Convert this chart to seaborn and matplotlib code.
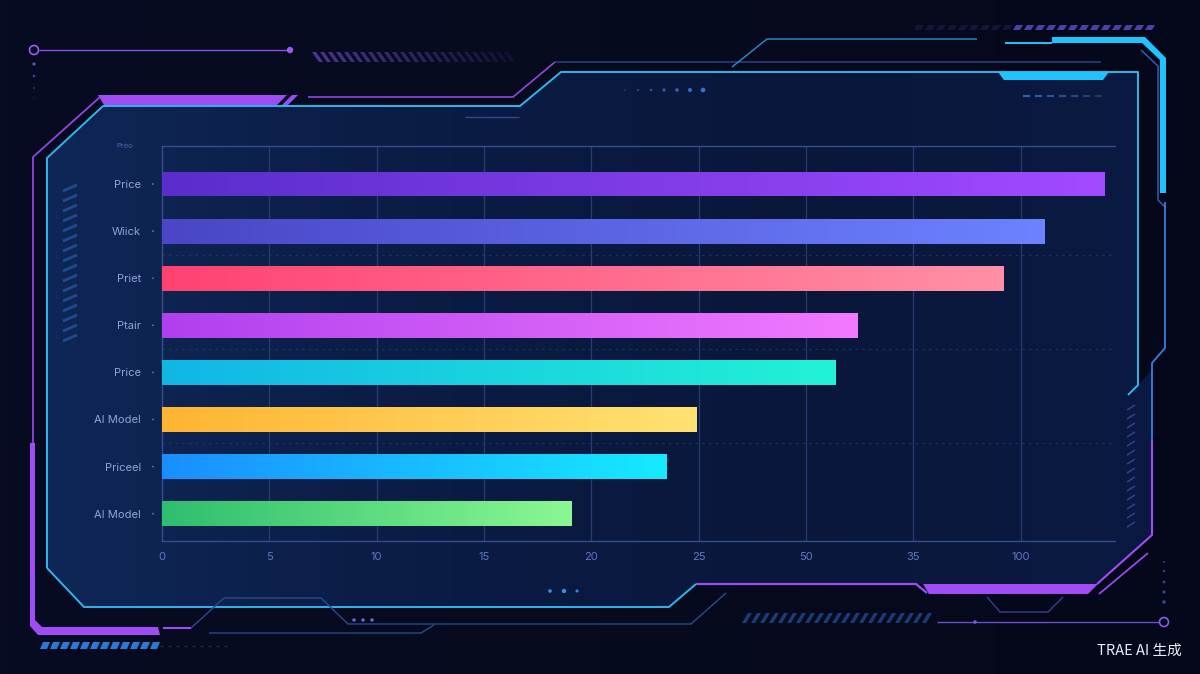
import numpy as np
import pandas as pd
import matplotlib
matplotlib.use("Agg")
import matplotlib.pyplot as plt
import matplotlib.transforms as mtransforms
from matplotlib.colors import LinearSegmentedColormap
from matplotlib.patches import Polygon, Circle
import seaborn as sns

# ------------------------------------------------------------------
# Data
# ------------------------------------------------------------------
labels = ["Price", "Wiick", "Priet", "Ptair", "Price", "AI Model", "Priceel", "AI Model"]
values = [43.9, 41.1, 39.2, 32.4, 31.4, 24.9, 23.5, 19.1]
start_colors = ["#5A2DCC", "#4A46C6", "#FF4272", "#B040EE", "#12B6E6", "#FFB432", "#1A8EFF", "#2EBE6E"]
end_colors = ["#A24AFF", "#6C82FF", "#FF90A6", "#F27AFF", "#22F2D6", "#FFE272", "#16EAFF", "#8AF892"]
tick_pos = [0, 5, 10, 15, 20, 25, 30, 35, 40]
tick_text = ["0", "5", "10", "15", "20", "25", "50", "35", "100"]
top_label = "Preo"
watermark = "TRAE AI 生成"

W, H = 1200, 674
BG = "#070b1f"
CYAN = "#2fb6ee"
BRIGHT = "#1fc4ff"
PURPLE = "#a04cf5"
DIM = "#2b3c7e"

sns.set_theme(style="dark")
plt.rcParams["font.family"] = ["Inter", "DejaVu Sans"]
plt.rcParams["patch.edgecolor"] = "none"

fig = plt.figure(figsize=(W / 100, H / 100), dpi=100)
fig.patch.set_facecolor(BG)

# ------------------------------------------------------------------
# Background / frame decoration, in pixel coordinates
# ------------------------------------------------------------------
bg = fig.add_axes([0, 0, 1, 1], zorder=0)
bg.set_xlim(0, W)
bg.set_ylim(H, 0)
bg.axis("off")

vign = np.linspace(0, 1, 300).reshape(1, -1)
bg.imshow(vign, extent=[0, W, H, 0], aspect="auto",
          cmap=LinearSegmentedColormap.from_list("bgc", ["#080c22", "#070b1e", "#05081a"]), zorder=0)

panel_pts = [(47, 158), (103, 106), (520, 106), (561, 72), (1138, 72), (1138, 385),
             (1152, 370), (1151, 535), (1097, 584), (696, 584), (669, 607), (84, 607), (47, 568)]
panel = Polygon(panel_pts, closed=True, facecolor="none", edgecolor="none")
bg.add_patch(panel)
pg = np.linspace(0, 1, 400).reshape(1, -1)
im = bg.imshow(pg, extent=[40, 1160, 620, 60], aspect="auto",
               cmap=LinearSegmentedColormap.from_list("pan", ["#0f2756", "#0b1c45", "#0a173b", "#0b1a42"]),
               zorder=1)
im.set_clip_path(panel)


def line(pts, color, lw=1.2, alpha=1.0, z=3):
    xs, ys = zip(*pts)
    bg.plot(xs, ys, color=color, lw=lw, alpha=alpha, zorder=z, solid_capstyle="butt")


def quad(pts, color, alpha=1.0, z=3):
    bg.add_patch(Polygon(pts, closed=True, facecolor=color, edgecolor="none", alpha=alpha, zorder=z))


def dot(x, y, r, color, alpha=1.0):
    bg.add_patch(Circle((x, y), r, facecolor=color, edgecolor="none", alpha=alpha, zorder=3))


# inner cyan panel outline
line([(47, 568), (47, 158), (103, 106), (520, 106), (561, 72), (1138, 72), (1138, 385), (1128, 395)], CYAN, 1.4)
line([(47, 568), (84, 607), (669, 607), (696, 584)], CYAN, 1.4)
line([(696, 584), (916, 584), (927, 593)], PURPLE, 1.6)
# right edge: outer line turning purple
line([(1165, 202), (1165, 348), (1152, 363), (1152, 440)], "#3a7fe0", 1.3)
line([(1152, 440), (1152, 535), (1097, 584)], PURPLE, 1.5)
quad([(923, 584), (1098, 584), (1088, 594), (929, 594)], PURPLE)
line([(1099, 594), (1148, 553)], PURPLE, 1.2)

# left purple outer frame
line([(100, 97), (33, 157), (33, 443)], PURPLE, 1.3, 0.9)
quad([(30, 443), (35, 443), (35, 620), (42, 627), (158, 627), (160, 635), (38, 635), (30, 626)], PURPLE)
quad([(98, 95), (287, 95), (277, 105), (104, 105)], PURPLE)
quad([(292, 95), (298, 95), (288, 105), (282, 105)], PURPLE)
line([(308, 97), (513, 97), (555, 62)], PURPLE, 1.2, 0.9)
line([(555, 62), (1101, 62)], DIM, 1.2)

# top-right bright cyan corner
line([(1005, 43), (1052, 43)], BRIGHT, 1.4)
quad([(1052, 37), (1145, 37), (1166, 58), (1166, 193), (1160, 193), (1160, 60), (1142, 43), (1052, 43)], BRIGHT)
line([(1141, 50), (1158, 66), (1158, 200), (1165, 207)], "#3a7fe0", 1.0, 0.8)
quad([(998, 72), (1109, 72), (1103, 80), (1004, 80)], BRIGHT)
line([(732, 67), (767, 39), (977, 39)], "#2a8fd0", 1.0)

# top-left node line
bg.add_patch(Circle((34, 50), 4.5, facecolor="none", edgecolor="#9a5cf0", lw=1.2, zorder=3))
line([(39, 50), (288, 50)], "#8a4fe8", 1.0)
dot(290, 50, 3.2, "#9a5cf0")
for i, yy in enumerate([64, 76, 88, 98]):
    dot(34, yy, 1.6 - 0.3 * i, "#6a6ad8", 0.8 - 0.18 * i)

# purple hatch top
for i, xx in enumerate(np.arange(312, 505, 8)):
    quad([(xx, 52), (xx + 4, 52), (xx + 11, 62), (xx + 7, 62)], "#5a3fb0", max(0.15, 0.8 - i * 0.028))
line([(465, 117), (519, 117)], "#2a4a8a", 1.0)

# top-right dots / dashes
for i, xx in enumerate(np.linspace(625, 703, 7)):
    dot(xx, 90, 0.8 + 0.25 * i, "#3a7ae0", 0.5 + 0.07 * i)
for i, xx in enumerate(np.arange(1023, 1107, 12)):
    line([(xx, 96), (xx + 7, 96)], "#3a6fc8", 1.5, 0.85 - i * 0.08)
for i, xx in enumerate(np.arange(914, 1151, 11)):
    a = 0.2 if xx < 1011 else 0.9
    quad([(xx + 3, 25), (xx + 10, 25), (xx + 7, 30), (xx, 30)], "#5a44b8", a)

# left hatch
for yy in np.arange(185, 345, 10):
    line([(63, yy + 6), (77, yy)], "#2a5aa8", 2.0, 0.7)
# right hatch
for yy in np.arange(405, 527, 9):
    line([(1127, yy + 5), (1135, yy)], "#5a5ac8", 1.0, 0.6)

# bottom-left blue dashes
for xx in np.arange(40, 158, 10):
    quad([(xx + 3, 642), (xx + 10, 642), (xx + 7, 649), (xx, 649)], "#2a7ad8")
for xx in np.arange(160, 232, 8):
    line([(xx, 646), (xx + 3, 646)], "#2a5aa8", 1.0, 0.4)

# bottom circuit lines
line([(163, 628), (191, 628)], PURPLE, 1.5)
line([(191, 628), (224, 598), (321, 598), (348, 624), (691, 624), (726, 593)], "#2a4a90", 1.0)
line([(209, 633), (421, 633), (434, 625)], "#2a4a90", 1.0)
for xx in [354, 363, 372]:
    dot(xx, 620, 1.7, "#6a6ae0")
for xx, r in [(550, 1.8), (564, 2.2), (577, 1.5)]:
    dot(xx, 591, r, "#3a8ae8")
for i, xx in enumerate(np.arange(742, 923, 9)):
    quad([(xx + 6, 613), (xx + 10, 613), (xx + 4, 623), (xx, 623)], "#1f4a90", 0.8)
line([(937, 622), (1159, 622)], "#6a4fd0", 1.0)
dot(975, 622, 1.8, "#7a5ae0")
bg.add_patch(Circle((1164, 622), 4.5, facecolor="none", edgecolor="#8a5ae8", lw=1.2, zorder=3))
for i, yy in enumerate([562, 571, 582, 592, 602]):
    dot(1164, yy, 1.0 + 0.2 * i, "#4a5ac8", 0.7)
line([(987, 597), (1000, 612), (1048, 612), (1063, 597)], "#3a3f90", 1.0)

bg.text(1182, 651, watermark, ha="right", va="center", color="#e8ecf6", fontsize=10.5,
        family=["Noto Sans CJK SC", "DejaVu Sans"])

# ------------------------------------------------------------------
# Bar chart
# ------------------------------------------------------------------
ax_l, ax_r, ax_t, ax_b = 162, 1115, 146, 541
ax = fig.add_axes([ax_l / W, 1 - ax_b / H, (ax_r - ax_l) / W, (ax_b - ax_t) / H], zorder=2)
ax.set_facecolor("none")

df = pd.DataFrame({"slot": range(len(values)), "value": values})
sns.barplot(data=df, x="value", y="slot", orient="h", width=0.53, errorbar=None,
            color="#6a6aff", ax=ax, zorder=3)

grad = np.linspace(0, 1, 256).reshape(1, -1)
for patch, c0, c1 in zip(ax.patches, start_colors, end_colors):
    x0, y0 = patch.get_x(), patch.get_y()
    w, h = patch.get_width(), patch.get_height()
    cmap = LinearSegmentedColormap.from_list("g", [c0, c1])
    gi = ax.imshow(grad, extent=[x0, x0 + w, y0 + h, y0], aspect="auto", cmap=cmap, zorder=4)
    gi.set_clip_path(patch)
    patch.set_facecolor("none")
    patch.set_edgecolor("none")

ax.set_xlim(0, 44.4)
ax.set_ylim(7.58, -0.807)

ax.set_xticks(tick_pos)
ax.set_xticklabels(tick_text)
ax.set_yticks(range(len(labels)))
ax.set_yticklabels(labels)
ax.set_xlabel("")
ax.set_ylabel("")
ax.tick_params(axis="x", length=0, pad=8, labelsize=8, labelcolor="#5d7cc0")
ax.tick_params(axis="y", length=0, pad=15, labelsize=8, labelcolor="#8ea6dc")

ax.grid(False)
for t in tick_pos[1:]:
    ax.axvline(t, color="#263d72", lw=0.9, zorder=1)
for yy in [1.5, 3.5, 5.5]:
    ax.axhline(yy, color="#2a3f72", lw=0.8, ls=(0, (2, 4)), alpha=0.7, zorder=1)

for side in ["left", "bottom", "top"]:
    ax.spines[side].set_visible(True)
    ax.spines[side].set_color("#34508c")
    ax.spines[side].set_linewidth(1.0)
ax.spines["right"].set_visible(False)

# small tick dots beside the category labels
dot_tr = mtransforms.blended_transform_factory(ax.transAxes, ax.transData)
ax.scatter([-9 / (ax_r - ax_l)] * len(labels), range(len(labels)), s=1.5, color="#6a82c0",
           edgecolors="none", transform=dot_tr, clip_on=False, zorder=5)
ax.text(-37 / (ax_r - ax_l), 1.0, top_label, transform=ax.transAxes, ha="center", va="center",
        fontsize=5.5, color="#4a64a8")

fig.savefig("out.png", dpi=100, facecolor=fig.get_facecolor())
